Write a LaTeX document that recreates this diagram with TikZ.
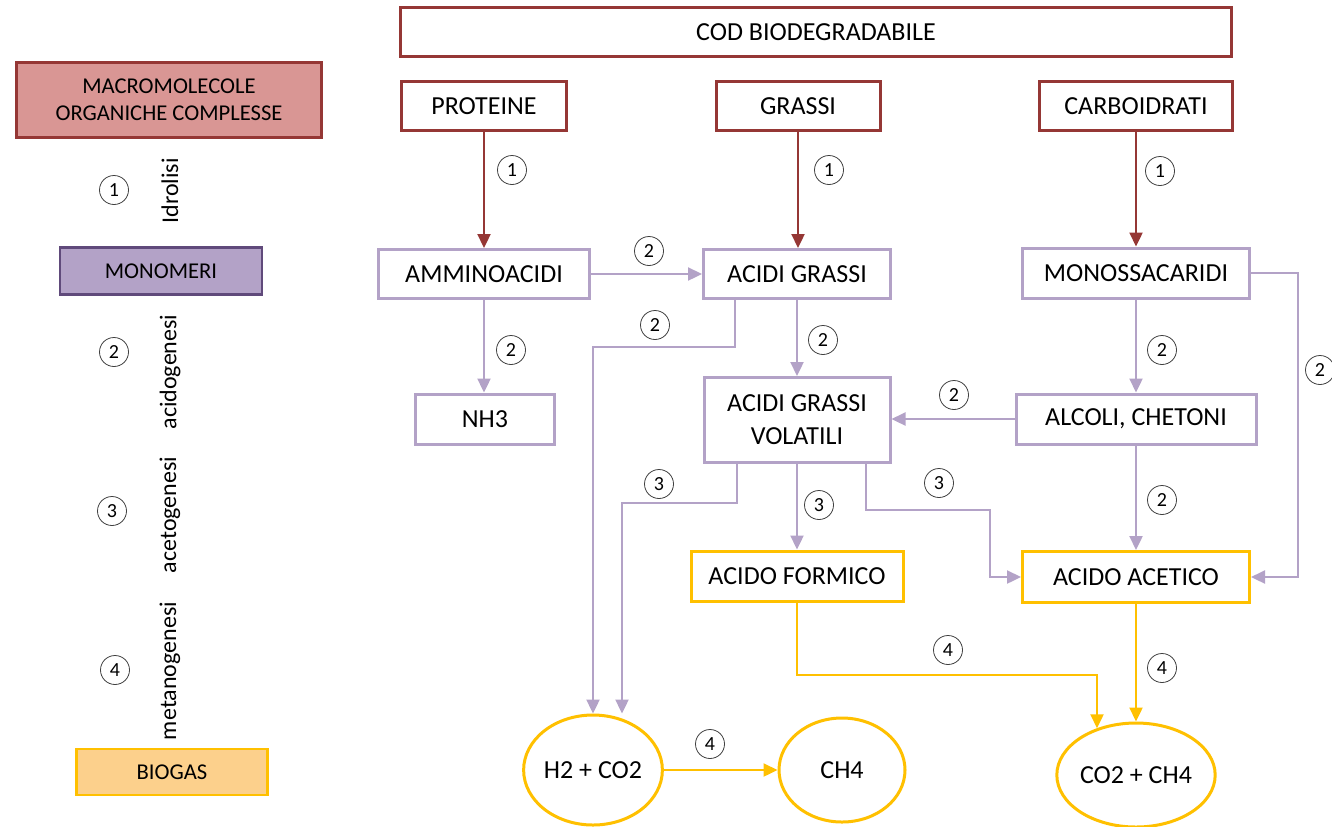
\documentclass[tikz,border=0pt]{standalone}
\usepackage{fontspec}
\setmainfont{Carlito}
\usetikzlibrary{arrows.meta,shapes.geometric}

\definecolor{cod}{HTML}{953735}
\definecolor{macro}{HTML}{D99694}
\definecolor{lav}{HTML}{B3A2C7}
\definecolor{mono}{HTML}{604A7B}
\definecolor{gas}{HTML}{FFC000}
\definecolor{gasfill}{HTML}{FCD08C}

\tikzset{
  box/.style={draw, line width=1.5pt, fill=white, minimum height=24.5pt, inner sep=2pt,
    font=\fontsize{13}{16.5}\selectfont, align=center},
  codbox/.style={box, draw=cod},
  lavbox/.style={box, draw=lav},
  gasbox/.style={box, draw=gas},
  gasell/.style={ellipse, draw=gas, line width=1.5pt, fill=white, inner sep=0pt,
    font=\fontsize{13}{16.5}\selectfont},
  legend/.style={draw, line width=1.3pt, inner sep=0pt, align=center,
    font=\fontsize{11.3}{13.5}\selectfont},
  num/.style={circle, draw=black!75, line width=0.4pt, inner sep=0pt, minimum size=14.5pt,
    font=\fontsize{10}{10}\selectfont},
  phase/.style={rotate=90, font=\fontsize{12}{14}\selectfont},
  flow/.style={line width=1.15pt, -{Triangle[length=7pt,width=6.5pt]}},
}

\begin{document}
\begin{tikzpicture}[x=0.5pt, y=-0.5pt]
    \useasboundingbox (0,0) rectangle (1332,826);

    % legend
    \node[legend, draw=cod, fill=macro, minimum width=152.5pt, minimum height=37.5pt] (macro) at (169,100) {MACROMOLECOLE\\ORGANICHE COMPLESSE};
    \node[num] (l1) at (114,190) {1};
    \node[phase] (idrolisi) at (170,191) {Idrolisi};
    \node[legend, draw=mono, fill=lav, minimum width=101pt, minimum height=23.5pt] (monomeri) at (161,271) {MONOMERI};
    \node[num] (l2) at (114,352) {2};
    \node[phase] (acido) at (170,372) {acidogenesi};
    \node[num] (l3) at (112,511) {3};
    \node[phase] (aceto) at (170,515) {acetogenesi};
    \node[num] (l4) at (115,670) {4};
    \node[phase] (metano) at (170,671) {metanogenesi};
    \node[legend, draw=gas, fill=gasfill, minimum width=95.5pt, minimum height=23pt] (biogas) at (172,772) {BIOGAS};

    % substrates
    \node[codbox, minimum width=415.5pt] (cod) at (816,32) {COD BIODEGRADABILE};
    \node[codbox, minimum width=82.5pt] (prot) at (484,106) {PROTEINE};
    \node[codbox, minimum width=82pt] (grassi) at (798,106) {GRASSI};
    \node[codbox, minimum width=96.5pt] (carb) at (1136,106) {CARBOIDRATI};

    % monomers and intermediates
    \node[lavbox, minimum width=105.5pt] (ammino) at (484,274) {AMMINOACIDI};
    \node[lavbox, minimum width=93.5pt] (agr) at (797,274) {ACIDI GRASSI};
    \node[lavbox, minimum width=113.5pt, minimum height=25pt] (monos) at (1136,273) {MONOSSACARIDI};
    \node[lavbox, minimum width=69.5pt, minimum height=25pt] (nh3) at (485,419) {NH3};
    \node[lavbox, minimum width=93pt, minimum height=42.5pt] (agv) at (797,420) {ACIDI GRASSI\\VOLATILI};
    \node[lavbox, minimum width=120pt, minimum height=25pt] (alcoli) at (1136,419) {ALCOLI, CHETONI};

    % acids and gases
    \node[gasbox, minimum width=106pt, minimum height=25pt] (formico) at (797,576) {ACIDO FORMICO};
    \node[gasbox, minimum width=113.5pt, minimum height=25.5pt] (acetico) at (1136,577) {ACIDO ACETICO};
    \node[gasell, minimum width=68pt, minimum height=55pt] (h2co2) at (593,770) {H2 + CO2};
    \node[gasell, minimum width=63pt, minimum height=52pt] (ch4) at (842,770) {CH4};
    \node[gasell, minimum width=75pt, minimum height=52pt] (co2ch4) at (1136,775) {CO2 + CH4};

    % bends
    \coordinate (k1) at (735,347);
    \coordinate (k2) at (1298,273);
    \coordinate (k3) at (737,503);
    \coordinate (k3b) at (622,503);
    \coordinate (k4) at (866,510);
    \coordinate (k4b) at (990,510);
    \coordinate (k5) at (1097,675);

    % idrolisi
    \draw[flow, cod] (prot) -- (ammino);
    \draw[flow, cod] (grassi.south) -- (grassi.south |- agr.north);
    \draw[flow, cod] (carb) -- (monos);
    \node[num] at (512,170) {1};
    \node[num] at (829,170) {1};
    \node[num] at (1160,171) {1};

    % acidogenesi
    \draw[flow, lav] (ammino) -- (agr);
    \draw[flow, lav] (ammino.south) -- (ammino.south |- nh3.north);
    \draw[flow, lav] (agr.south -| k1) -- (k1) -| (h2co2.north);
    \draw[flow, lav] (agr) -- (agv);
    \draw[flow, lav] (monos.east) -| (k2 |- acetico.east) -- (acetico.east);
    \draw[flow, lav] (monos) -- (alcoli);
    \draw[flow, lav] (alcoli.west) -- (alcoli.west -| agv.east);
    \draw[flow, lav] (alcoli) -- (acetico);
    \node[num] at (649,251) {2};
    \node[num] at (511,350) {2};
    \node[num] at (655,325) {2};
    \node[num] at (823,340) {2};
    \node[num] at (1320,370) {2};
    \node[num] at (1162,350) {2};
    \node[num] at (954,395) {2};
    \node[num] at (1162,500) {2};

    % acetogenesi
    \draw[flow, lav] (agv.south -| k3) -- (k3) -- (k3b) -- (k3b |- h2co2.north);
    \draw[flow, lav] (agv) -- (formico);
    \draw[flow, lav] (agv.south -| k4) -- (k4) -- (k4b) |- (acetico.west);
    \node[num] at (659,484) {3};
    \node[num] at (819,505) {3};
    \node[num] at (939,483) {3};

    % metanogenesi
    \draw[flow, gas] (formico.south) |- (k5) -- (co2ch4.130 -| k5);
    \draw[flow, gas] (acetico) -- (co2ch4);
    \draw[flow, gas] (h2co2) -- (ch4);
    \node[num] at (948,650) {4};
    \node[num] at (1162,668) {4};
    \node[num] at (710,744) {4};
\end{tikzpicture}
\end{document}
